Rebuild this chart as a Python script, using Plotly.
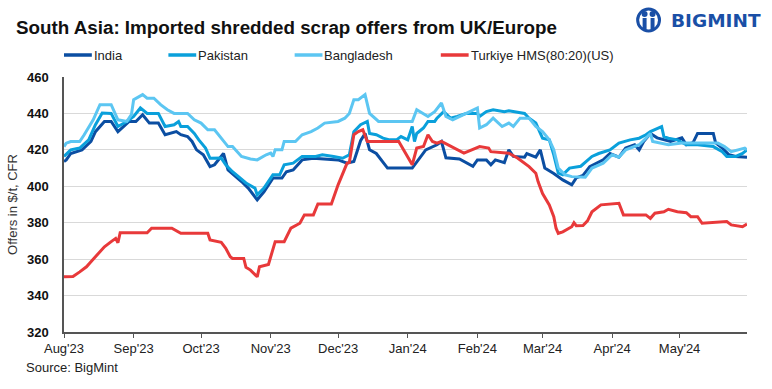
import plotly.graph_objects as go

# ---------------- data ----------------
india_dates = ["2023-08-01","2023-08-02","2023-08-04","2023-08-07","2023-08-09","2023-08-13","2023-08-15",
    "2023-08-19","2023-08-22","2023-08-25","2023-08-30","2023-09-02","2023-09-05","2023-09-08","2023-09-12",
    "2023-09-15","2023-09-20","2023-09-22","2023-09-25","2023-09-27","2023-09-29","2023-10-02","2023-10-05",
    "2023-10-07","2023-10-11","2023-10-13","2023-10-15","2023-10-19","2023-10-22","2023-10-26","2023-10-29",
    "2023-11-02","2023-11-06","2023-11-08","2023-11-11","2023-11-15","2023-11-20","2023-12-01","2023-12-05",
    "2023-12-08","2023-12-11","2023-12-13","2023-12-15","2023-12-18","2023-12-23","2024-01-03","2024-01-09",
    "2024-01-14","2024-01-16","2024-01-18","2024-01-24","2024-01-30","2024-02-01","2024-02-05","2024-02-07",
    "2024-02-09","2024-02-13","2024-02-15","2024-02-17","2024-02-22","2024-02-23","2024-02-27","2024-02-29",
    "2024-03-02","2024-03-06","2024-03-10","2024-03-14","2024-03-16","2024-03-19","2024-03-22","2024-03-28",
    "2024-03-31","2024-04-04","2024-04-07","2024-04-11","2024-04-13","2024-04-15","2024-04-18","2024-04-21",
    "2024-04-27","2024-05-02","2024-05-04","2024-05-07","2024-05-09","2024-05-16","2024-05-17","2024-05-20",
    "2024-05-23","2024-05-26","2024-05-31"]
india_vals = [413.6,414.5,418,419,420,424.6,430,435.6,435.6,430,435.6,435.6,439.3,434.7,434.7,428.3,430,428.3,
    427.3,424.6,420,417.3,410.8,411.8,418,409,407,402.6,399,392.5,397,404.5,404.5,408,409,414.5,415.4,414.5,
    412.7,413.6,425,429,420,418,410,410,420,422.8,424.6,415.6,415,411,414.5,414.5,411.8,414.5,413,420,416.4,
    416,418,416,420,410,407,403.5,400.8,404.6,406,410.8,414.5,418,416,421,422.8,420,424.6,429,426.6,424.6,
    426.6,422.8,424,429,429,424,421,417.3,416.4,416]

pakistan_dates = ["2023-08-01","2023-08-04","2023-08-08","2023-08-12","2023-08-15","2023-08-18","2023-08-22",
    "2023-08-25","2023-08-29","2023-09-01","2023-09-04","2023-09-07","2023-09-12","2023-09-15","2023-09-19",
    "2023-09-21","2023-09-22","2023-09-25","2023-09-28","2023-09-30","2023-10-03","2023-10-05","2023-10-10",
    "2023-10-12","2023-10-15","2023-10-21","2023-10-25","2023-10-26","2023-10-29","2023-11-02","2023-11-05",
    "2023-11-07","2023-11-11","2023-11-15","2023-11-21","2023-11-24","2023-11-29","2023-12-03","2023-12-06",
    "2023-12-08","2023-12-11","2023-12-14","2023-12-15","2023-12-18","2023-12-21","2023-12-24","2023-12-27",
    "2023-12-29","2024-01-01","2024-01-03","2024-01-04","2024-01-05","2024-01-08","2024-01-10","2024-01-13",
    "2024-01-14","2024-01-17","2024-01-20","2024-01-23","2024-01-27","2024-02-01","2024-02-02","2024-02-05",
    "2024-02-08","2024-02-13","2024-02-15","2024-02-22","2024-02-24","2024-02-27","2024-03-01","2024-03-04",
    "2024-03-06","2024-03-08","2024-03-10","2024-03-13","2024-03-18","2024-03-23","2024-03-26","2024-03-31",
    "2024-04-04","2024-04-09","2024-04-13","2024-04-16","2024-04-18","2024-04-23","2024-04-24","2024-04-26",
    "2024-04-30","2024-05-04","2024-05-09","2024-05-16","2024-05-20","2024-05-22","2024-05-26","2024-05-29",
    "2024-05-31"]
pakistan_vals = [416.4,420,421,425.5,433.8,440.2,440,432.8,435.6,438.3,443,440,440,432.8,433.8,435.6,432.8,
    432.8,429,425.5,421,415.4,415.5,411.8,408,401.8,399,395.3,399,406.3,406.3,411.8,412.7,416.4,416.4,417.3,
    416.4,415.4,417.3,430,433.8,435.6,429,428.3,426.4,425.5,425.5,427.3,425.5,432.8,424.6,429,432,435.6,435.6,
    437.4,441,437.4,438.3,440,440,438.3,441,442,441,441.5,440,437.4,434.7,426.4,425.5,417.3,407.2,406.3,410,
    411,416.4,418,420,423.7,425.5,426.4,428.3,430,432.8,427.3,426.4,425.5,422.8,422.8,421.8,419,416.4,416.4,
    418,420]

bangladesh_dates = ["2023-08-01","2023-08-02","2023-08-04","2023-08-08","2023-08-10","2023-08-14","2023-08-17",
    "2023-08-22","2023-08-25","2023-08-29","2023-08-31","2023-09-01","2023-09-05","2023-09-07","2023-09-10",
    "2023-09-13","2023-09-16","2023-09-19","2023-09-25","2023-09-28","2023-10-01","2023-10-04","2023-10-07",
    "2023-10-10","2023-10-13","2023-10-15","2023-10-19","2023-10-23","2023-10-26","2023-10-30","2023-11-01",
    "2023-11-02","2023-11-03","2023-11-06","2023-11-07","2023-11-12","2023-11-15","2023-11-19","2023-11-22",
    "2023-11-25","2023-12-01","2023-12-04","2023-12-06","2023-12-08","2023-12-10","2023-12-13","2023-12-15",
    "2023-12-19","2023-12-29","2024-01-03","2024-01-05","2024-01-10","2024-01-13","2024-01-16","2024-01-18",
    "2024-01-21","2024-01-27","2024-02-01","2024-02-02","2024-02-05","2024-02-08","2024-02-12","2024-02-15",
    "2024-02-17","2024-02-20","2024-02-24","2024-02-27","2024-03-01","2024-03-04","2024-03-06","2024-03-08",
    "2024-03-11","2024-03-14","2024-03-20","2024-03-23","2024-03-28","2024-04-01","2024-04-04","2024-04-07",
    "2024-04-13","2024-04-16","2024-04-18","2024-04-19","2024-04-26","2024-05-02","2024-05-18","2024-05-21",
    "2024-05-24","2024-05-30","2024-05-31"]
bangladesh_vals = [421.8,423.7,424.6,424.6,428.3,436.5,444.8,444.8,436.5,435.6,439.3,447.5,450.3,448.4,448.4,
    444.8,442,440,440,436.5,434.7,431,431,426.4,421.8,421.8,416.4,415,414.5,417.3,418.2,416.4,420,420,424.6,
    424.6,428.3,430,432,434.7,435.6,437.4,440,447.5,447.5,450.3,440,435.6,435.6,435.6,442,438.3,441,445.7,
    438.3,436.5,440,443,432,433.8,437.4,432.8,434.7,432.8,437.4,437.4,432.8,430,425.5,420,410,406.3,405.3,405,
    410,412.7,417.3,416,420,422.8,426.4,429,424.6,422.8,423.7,423.7,421.8,419,421,420]

turkiye_dates = ["2023-08-01","2023-08-05","2023-08-08","2023-08-11","2023-08-13","2023-08-15","2023-08-19",
    "2023-08-22","2023-08-24","2023-08-25","2023-08-26","2023-09-07","2023-09-09","2023-09-18","2023-09-20",
    "2023-09-22","2023-10-04","2023-10-05","2023-10-10","2023-10-12","2023-10-14","2023-10-15","2023-10-20",
    "2023-10-21","2023-10-23","2023-10-26","2023-10-27","2023-10-31","2023-11-03","2023-11-07","2023-11-10",
    "2023-11-14","2023-11-16","2023-11-20","2023-11-22","2023-11-28","2023-12-01","2023-12-05","2023-12-06",
    "2023-12-08","2023-12-10","2023-12-12","2023-12-14","2023-12-28","2024-01-03","2024-01-05","2024-01-08",
    "2024-01-09","2024-01-10","2024-01-12","2024-01-14","2024-01-16","2024-01-19","2024-01-26","2024-02-02",
    "2024-02-06","2024-02-07","2024-02-15","2024-02-19","2024-02-24","2024-02-27","2024-02-28","2024-03-01",
    "2024-03-04","2024-03-06","2024-03-07","2024-03-08","2024-03-10","2024-03-14","2024-03-15","2024-03-16",
    "2024-03-19","2024-03-21","2024-03-23","2024-03-27","2024-04-04","2024-04-06","2024-04-16","2024-04-18",
    "2024-04-20","2024-04-24","2024-04-26","2024-04-30","2024-05-04","2024-05-06","2024-05-09","2024-05-11",
    "2024-05-17","2024-05-22","2024-05-24","2024-05-29","2024-05-31"]
turkiye_vals = [350.3,350.5,353,355.8,358.6,361.3,366.8,369.6,371.4,369,374.5,374.5,377,377,375.4,374.2,374.2,
    370.5,369.2,366,361.3,360.4,360.4,355.5,354,350.3,355.8,357.1,369.6,369.6,377,379.7,384.3,384.3,390.3,
    390.3,400.8,412.7,413,428.3,430,431,424.6,424.6,411.8,421,421.8,425.5,428.3,424.6,423.7,424.6,422.8,
    418.2,421.8,421,419,418.2,415.4,410.8,407.2,402.6,396,389.8,383.3,377,374.2,375,377.8,380,378.4,378.5,
    381,386,389.8,390.7,384.3,384.3,382.4,385.2,386,387.4,386,385.5,383.3,383.3,379.7,380,380.6,378.8,377.8,
    379.3]

series_names = ["India", "Pakistan", "Bangladesh", "Turkiye HMS(80:20)(US)"]
series_colors = ["#0B4EA2", "#0AA0DB", "#5CC6F2", "#E8393A"]

tick_vals = ["2023-08-01","2023-09-01","2023-10-01","2023-11-01","2023-12-01","2024-01-01",
             "2024-02-01","2024-03-01","2024-04-01","2024-05-01"]
tick_text = ["Aug'23","Sep'23","Oct'23","Nov'23","Dec'23","Jan'24","Feb'24","Mar'24","Apr'24","May'24"]
y_ticks = [320, 340, 360, 380, 400, 420, 440, 460]

# ---------------- figure ----------------
W, H = 772, 389
ML, MR, MT, MB = 60, 25, 77, 57
PW, PH = W - ML - MR, H - MT - MB

def px(x):
    return (x - ML) / PW

def py(y):
    return (H - MB - y) / PH

fig = go.Figure()
all_series = [(india_dates, india_vals), (pakistan_dates, pakistan_vals),
              (bangladesh_dates, bangladesh_vals), (turkiye_dates, turkiye_vals)]
for (d, v), name, col in zip(all_series, series_names, series_colors):
    fig.add_trace(go.Scatter(x=d, y=v, name=name, mode="lines",
                             line=dict(color=col, width=3), showlegend=False))

font_main = "Liberation Sans, Arial, sans-serif"

annotations = []
shapes = []

# title
annotations.append(dict(text="<b>South Asia: Imported shredded scrap offers from UK/Europe</b>",
                        xref="paper", yref="paper", x=px(10), y=py(27), xanchor="left", yanchor="middle",
                        showarrow=False, font=dict(family=font_main, size=18.8, color="#111111")))
# logo text
annotations.append(dict(text="<b>BIGMINT</b>", xref="paper", yref="paper", x=px(763), y=py(21),
                        xanchor="right", yanchor="middle", showarrow=False,
                        font=dict(family="DejaVu Sans, sans-serif", size=18.5, color="#1A4FA6")))
# logo icon
logo_col = "#1A4FA6"
shapes.append(dict(type="circle", xref="paper", yref="paper", x0=px(637), x1=px(659), y0=py(31), y1=py(9),
                   line=dict(color=logo_col, width=3), fillcolor="rgba(0,0,0,0)"))
for cx in (644, 652):
    shapes.append(dict(type="circle", xref="paper", yref="paper", x0=px(cx - 3), x1=px(cx + 3),
                       y0=py(17), y1=py(11), line=dict(width=0), fillcolor=logo_col))
    shapes.append(dict(type="rect", xref="paper", yref="paper", x0=px(cx - 2), x1=px(cx + 2),
                       y0=py(30), y1=py(18), line=dict(width=0), fillcolor=logo_col))

# manual legend
leg_x = [60, 165, 292, 439]
for lx, name, col in zip(leg_x, series_names, series_colors):
    shapes.append(dict(type="line", xref="paper", yref="paper", x0=px(lx), x1=px(lx + 28),
                       y0=py(55), y1=py(55), line=dict(color=col, width=3.5)))
    annotations.append(dict(text=name, xref="paper", yref="paper", x=px(lx + 28), y=py(55),
                            xanchor="left", yanchor="middle", showarrow=False,
                            font=dict(family=font_main, size=13, color="#222222")))

# source
annotations.append(dict(text="Source: BigMint", xref="paper", yref="paper", x=px(20), y=py(367),
                        xanchor="left", yanchor="middle", showarrow=False,
                        font=dict(family=font_main, size=13, color="#222222")))

fig.update_layout(
    width=W, height=H, margin=dict(l=ML, r=MR, t=MT, b=MB),
    plot_bgcolor="white", paper_bgcolor="white",
    font=dict(family=font_main, size=13, color="#222222"),
    annotations=annotations, shapes=shapes,
    xaxis=dict(type="date", range=["2023-08-01", "2024-05-31"], tickvals=tick_vals, ticktext=tick_text,
               showgrid=False, showline=True, linecolor="#555555", linewidth=1.5,
               ticks="outside", ticklen=4, tickcolor="#555555", tickwidth=1,
               tickfont=dict(family=font_main, size=13, color="#222222"), zeroline=False),
    yaxis=dict(range=[320, 460], tickvals=y_ticks, showgrid=True, gridcolor="#D9D9D9", gridwidth=1,
               showline=True, linecolor="#555555", linewidth=1.5, ticks="", zeroline=False,
               tickfont=dict(family=font_main, size=13, color="#111111", weight="bold"),
               ticklabelstandoff=11,
               title=dict(text="Offers in $/t, CFR", standoff=6,
                          font=dict(family=font_main, size=13, color="#333333"))),
)

fig.write_html("out.html", config={"displayModeBar": False},
               post_script="document.body.style.margin='0';document.body.style.overflow='hidden';")
